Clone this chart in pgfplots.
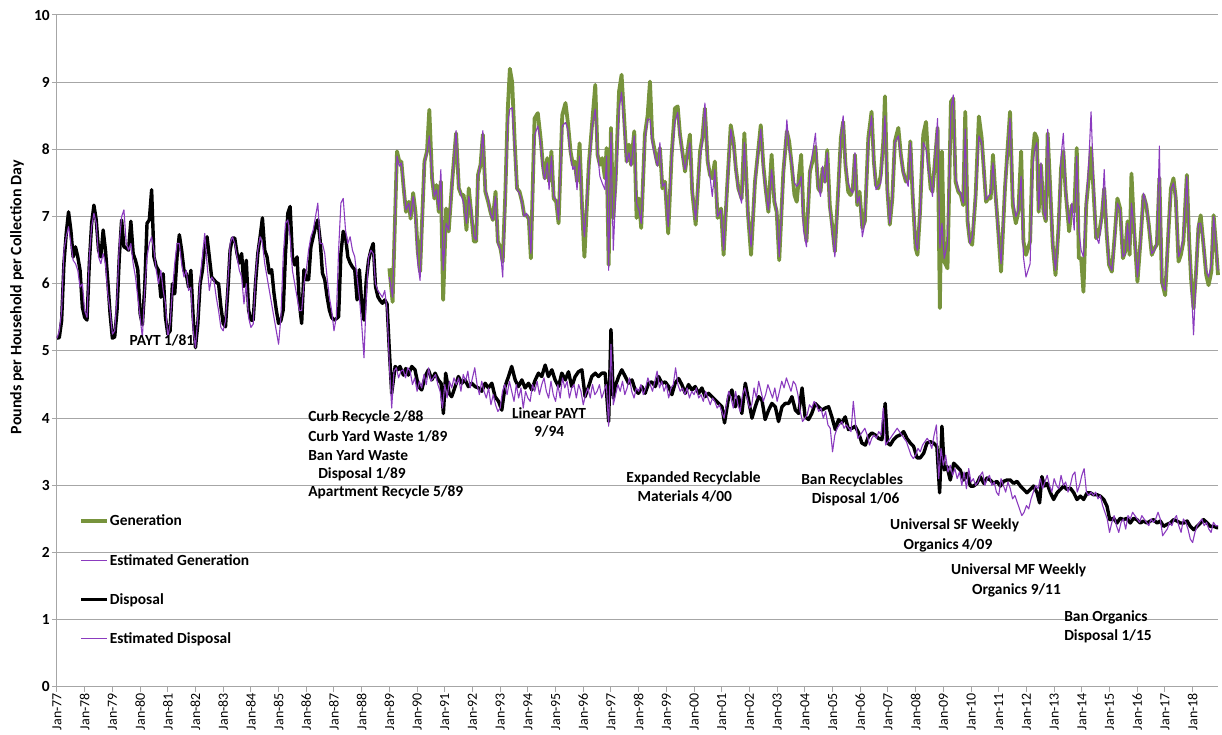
\documentclass[border=0pt]{standalone}
\usepackage{pgfplots}
\pgfplotsset{compat=1.18}
\usepackage{pgfplotstable}
\usepackage{fontspec}
\setmainfont{Carlito}
\definecolor{gen}{HTML}{77933C}
\definecolor{est}{HTML}{8B3BBF}
\definecolor{gridc}{HTML}{A6A6A6}

\pgfplotstableread{
x y
0 5.19
1 5.20
2 5.45
3 6.30
4 6.75
5 7.07
6 6.80
7 6.40
8 6.55
9 6.40
10 6.20
11 5.65
12 5.50
13 5.46
14 6.30
15 6.90
16 7.17
17 6.95
18 6.50
19 6.40
20 6.80
21 6.50
22 6.05
23 5.55
24 5.19
25 5.21
26 5.60
27 6.40
28 6.95
29 6.55
30 6.53
31 6.50
32 6.93
33 6.45
34 6.35
35 6.21
36 5.56
37 5.39
38 5.95
39 6.90
40 6.95
41 7.40
42 6.40
43 6.26
44 6.20
45 5.80
46 6.15
47 5.50
48 5.25
49 5.30
50 6.00
51 5.85
52 6.40
53 6.73
54 6.50
55 6.20
56 6.15
57 5.95
58 6.20
59 5.50
60 5.05
61 5.40
62 6.00
63 6.20
64 6.55
65 6.70
66 6.40
67 6.10
68 6.06
69 6.02
70 6.00
71 5.66
72 5.41
73 5.36
74 5.90
75 6.50
76 6.68
77 6.68
78 6.45
79 6.31
80 6.45
81 5.96
82 6.35
83 5.61
84 5.46
85 5.46
86 6.00
87 6.45
88 6.70
89 6.98
90 6.50
91 6.40
92 6.16
93 6.21
94 5.86
95 5.61
96 5.41
97 5.45
98 5.61
99 6.45
100 7.05
101 7.15
102 6.40
103 6.28
104 6.40
105 5.71
106 5.41
107 6.21
108 6.06
109 6.06
110 6.55
111 6.70
112 6.85
113 6.95
114 6.65
115 6.16
116 6.06
117 5.81
118 5.61
119 5.50
120 5.46
121 5.48
122 5.51
123 6.45
124 6.78
125 6.70
126 6.40
127 6.31
128 6.25
129 6.21
130 5.76
131 6.21
132 5.71
133 5.46
134 6.06
135 6.35
136 6.50
137 6.60
138 5.96
139 5.81
140 5.75
141 5.71
142 5.76
143 5.70
144 5.00
145 4.37
146.5 4.77
147.6 4.72
148.6 4.77
150.1 4.64
151.1 4.74
152.2 4.64
153.7 4.77
155.1 4.72
156.6 4.47
158.0 4.42
159.5 4.62
160.9 4.72
162.4 4.57
163.8 4.67
165.2 4.57
166.4 4.52
167.4 4.07
168.4 4.67
169.9 4.37
171.0 4.32
172.5 4.47
173.9 4.62
175.4 4.52
176.8 4.57
178.2 4.47
179.7 4.52
181.1 4.47
182.6 4.45
184.0 4.40
185.5 4.52
186.9 4.45
188.4 4.52
189.8 4.32
191.3 4.25
192.7 4.12
194.1 4.47
195.6 4.62
197.0 4.77
198.5 4.57
199.9 4.47
201.4 4.57
202.8 4.45
204.3 4.52
205.7 4.42
207.2 4.57
208.6 4.67
210.0 4.62
211.5 4.79
212.9 4.62
214.4 4.72
215.8 4.57
217.3 4.47
218.7 4.67
220.2 4.57
221.6 4.69
223.0 4.47
224.5 4.62
225.9 4.69
227.4 4.72
228.8 4.32
230.3 4.47
231.7 4.62
233.2 4.67
234.6 4.62
236.1 4.67
237.5 4.67
239.0 3.95
240.0 5.32
241.0 4.30
241.8 4.47
243.3 4.62
244.7 4.72
246.2 4.62
247.6 4.52
249.1 4.57
250.5 4.42
251.9 4.37
253.4 4.47
254.8 4.37
256.3 4.52
257.7 4.54
259.2 4.47
260.6 4.62
262.1 4.52
263.5 4.54
265.0 4.47
266.4 4.35
267.8 4.52
269.3 4.59
270.7 4.50
272.2 4.37
273.6 4.50
275.1 4.42
276.5 4.47
278.0 4.37
279.4 4.45
280.8 4.32
282.3 4.37
283.7 4.32
285.2 4.27
286.6 4.22
288.1 4.17
289.2 3.93
291.0 4.32
292.4 4.42
293.9 4.17
295.3 4.32
296.7 4.07
298.2 4.52
299.6 4.27
301.1 4.00
302.5 4.17
304.0 4.32
305.4 4.27
306.8 3.98
308.3 4.12
309.7 4.22
311.2 4.17
312.6 3.95
314.1 4.17
315.5 4.22
317.0 4.22
318.4 4.32
319.9 4.12
321.3 4.07
322.8 4.45
324.1 4.02
325.6 3.98
327.0 4.07
328.5 4.22
329.9 4.17
331.4 4.12
332.8 4.15
334.3 4.17
335.7 4.02
337.2 3.83
338.6 3.98
340.0 3.93
341.5 4.02
342.9 3.83
344.4 3.85
345.8 3.88
347.3 3.78
348.7 3.63
350.2 3.60
351.6 3.73
353.0 3.78
354.5 3.75
355.9 3.70
357.4 3.68
358.8 4.22
359.8 3.63
361.0 3.60
362.4 3.68
363.9 3.73
365.3 3.75
366.8 3.80
368.2 3.70
369.7 3.63
371.1 3.58
372.6 3.41
374.0 3.41
375.5 3.48
376.9 3.63
378.3 3.65
379.8 3.63
381.2 3.58
382.4 2.89
383.4 3.88
384.4 3.23
385.6 3.28
387.0 3.08
388.5 3.33
389.9 3.28
391.3 3.23
392.8 3.08
394.2 3.18
395.7 2.99
397.1 2.99
398.6 3.03
400.0 3.13
401.5 3.03
402.9 3.11
404.3 3.08
405.8 3.03
407.2 3.06
408.7 2.99
410.1 3.06
411.6 3.08
413.0 3.08
414.5 3.03
415.9 3.06
417.4 2.99
418.8 2.94
420.2 2.89
421.7 2.94
423.1 2.99
424.6 2.89
425.7 2.74
426.7 3.13
427.8 2.99
428.9 3.03
430.4 2.89
431.8 2.79
433.3 2.89
434.7 2.94
436.1 2.99
437.6 2.94
439.0 2.96
440.5 2.89
441.9 2.79
443.4 2.84
444.8 2.79
446.3 2.89
447.7 2.89
449.1 2.86
450.6 2.86
452.0 2.84
453.5 2.79
454.9 2.69
456.1 2.49
457.8 2.51
459.2 2.44
460.6 2.51
462.1 2.49
463.5 2.51
465.0 2.44
466.4 2.51
467.9 2.49
469.3 2.44
470.8 2.47
472.2 2.44
473.7 2.47
475.1 2.49
476.6 2.44
478.0 2.47
479.4 2.39
480.9 2.42
482.3 2.44
483.8 2.49
485.2 2.47
486.7 2.44
488.2 2.44
489.6 2.47
491.0 2.39
492.5 2.34
493.9 2.39
495.4 2.44
496.8 2.49
498.3 2.44
499.7 2.39
501.2 2.39
502.6 2.37
503.0 2.37
}\disposal

\pgfplotstableread{
x y
0 5.19
1 5.30
2 5.60
3 6.50
4 6.70
5 6.85
6 6.60
7 6.35
8 6.30
9 6.20
10 5.95
11 6.00
12 5.60
13 5.50
14 6.40
15 6.85
16 7.05
17 6.90
18 6.40
19 6.30
20 6.45
21 6.30
22 5.85
23 5.60
24 5.25
25 5.30
26 5.80
27 6.60
28 7.00
29 7.10
30 6.60
31 6.50
32 6.60
33 6.30
34 6.10
35 5.80
36 5.50
37 5.20
38 5.90
39 6.40
40 6.60
41 6.70
42 6.50
43 6.20
44 6.00
45 6.20
46 5.90
47 5.70
48 5.20
49 5.40
50 5.90
51 6.30
52 6.60
53 6.60
54 6.30
55 6.10
56 6.20
57 5.90
58 5.95
59 5.30
60 5.05
61 5.50
62 6.10
63 6.40
64 6.75
65 6.30
66 5.90
67 6.10
68 6.05
69 5.80
70 5.60
71 5.35
72 5.30
73 5.45
74 6.00
75 6.60
76 6.70
77 6.60
78 6.40
79 6.20
80 6.10
81 5.70
82 6.00
83 5.50
84 5.35
85 5.40
86 6.10
87 6.50
88 6.70
89 6.60
90 6.30
91 6.10
92 5.90
93 5.70
94 5.50
95 5.30
96 5.10
97 5.50
98 6.40
99 6.90
100 6.95
101 6.70
102 6.20
103 6.00
104 5.80
105 5.60
106 5.60
107 6.00
108 6.20
109 6.50
110 6.70
111 6.80
112 7.00
113 7.20
114 6.60
115 6.60
116 6.45
117 6.10
118 5.80
119 5.60
120 5.30
121 5.50
122 6.50
123 7.20
124 7.27
125 6.80
126 6.60
127 6.70
128 6.50
129 6.40
130 6.10
131 5.80
132 5.40
133 4.90
134 5.80
135 6.40
136 6.50
137 6.45
138 6.00
139 5.90
140 5.85
141 5.80
142 5.90
143 5.60
144 4.80
145 4.15
146 4.70
147 4.75
148 4.60
149 4.70
150 4.72
151 4.60
152 4.75
153 4.70
154 4.50
155 4.60
156 4.40
157 4.55
158 4.45
159 4.65
160 4.50
161 4.75
162 4.55
163 4.60
164 4.65
165 4.50
166 4.40
167 4.15
168 4.50
169 4.30
170 4.55
171 4.45
172 4.60
173 4.50
174 4.60
175 4.40
176 4.65
177 4.55
178 4.70
179 4.45
180 4.60
181 4.75
182 4.50
183 4.35
184 4.55
185 4.40
186 4.30
187 4.45
188 4.20
189 4.35
190 4.20
191 4.10
192 4.15
193 4.40
194 4.50
195 4.35
196 4.55
197 4.40
198 4.25
199 4.50
200 4.30
201 4.45
202 4.15
203 4.40
204 4.30
205 4.25
206 4.50
207 4.40
208 4.55
209 4.35
210 4.50
211 4.60
212 4.40
213 4.30
214 4.55
215 4.35
216 4.25
217 4.50
218 4.30
219 4.60
220 4.45
221 4.55
222 4.30
223 4.45
224 4.50
225 4.30
226 4.50
227 4.40
228 4.20
229 4.35
230 4.45
231 4.30
232 4.50
233 4.35
234 4.40
235 4.50
236 4.30
237 4.40
238 4.50
239 3.88
240 5.10
241 4.20
242 4.35
243 4.50
244 4.40
245 4.55
246 4.35
247 4.45
248 4.60
249 4.40
250 4.30
251 4.45
252 4.40
253 4.50
254 4.35
255 4.45
256 4.60
257 4.50
258 4.40
259 4.55
260 4.70
261 4.45
262 4.55
263 4.40
264 4.50
265 4.30
266 4.45
267 4.50
268 4.75
269 4.50
270 4.40
271 4.45
272 4.35
273 4.45
274 4.30
275 4.40
276 4.35
277 4.45
278 4.30
279 4.35
280 4.25
281 4.40
282 4.30
283 4.20
284 4.30
285 4.25
286 4.15
287 4.20
288 4.10
289 4.00
290 4.20
291 4.40
292 4.30
293 4.15
294 4.40
295 4.20
296 4.10
297 4.35
298 4.45
299 4.30
300 4.15
301 4.20
302 4.45
303 4.30
304 4.55
305 4.40
306 4.25
307 4.35
308 4.50
309 4.40
310 4.30
311 4.45
312 4.25
313 4.40
314 4.55
315 4.45
316 4.60
317 4.50
318 4.40
319 4.55
320 4.50
321 4.35
322 4.10
323 3.95
324 4.00
325 4.05
326 4.20
327 4.15
328 4.25
329 4.20
330 4.10
331 4.15
332 4.00
333 4.10
334 3.90
335 3.85
336 3.50
337 3.75
338 3.85
339 3.90
340 3.95
341 3.85
342 3.90
343 3.85
344 3.80
345 4.25
346 3.90
347 3.70
348 3.75
349 3.80
350 3.85
351 3.75
352 3.60
353 3.70
354 3.75
355 3.70
356 3.80
357 3.75
358 4.15
359 3.60
360 3.65
361 3.70
362 3.75
363 3.80
364 3.85
365 3.80
366 3.75
367 3.70
368 3.65
369 3.55
370 3.45
371 3.40
372 3.45
373 3.55
374 3.50
375 3.60
376 3.65
377 3.70
378 3.65
379 3.55
380 3.75
381 3.90
382 3.10
383 3.55
384 3.30
385 3.45
386 3.20
387 3.30
388 3.15
389 3.25
390 3.10
391 3.20
392 3.00
393 3.20
394 2.95
395 3.25
396 3.05
397 3.10
398 3.00
399 3.05
400 3.15
401 3.20
402 3.00
403 3.10
404 3.15
405 3.00
406 3.05
407 2.90
408 2.85
409 3.10
410 3.00
411 2.90
412 3.05
413 2.95
414 2.80
415 2.85
416 2.75
417 2.65
418 2.55
419 2.60
420 2.70
421 2.65
422 2.80
423 2.90
424 3.00
425 2.95
426 3.10
427 2.95
428 3.05
429 3.15
430 3.00
431 2.90
432 3.10
433 3.00
434 2.95
435 3.15
436 3.00
437 3.05
438 2.90
439 3.00
440 3.15
441 3.20
442 2.90
443 3.00
444 3.15
445 3.25
446 2.90
447 2.85
448 2.90
449 2.85
450 2.90
451 2.80
452 2.85
453 2.70
454 2.60
455 2.50
456 2.30
457 2.45
458 2.55
459 2.40
460 2.30
461 2.45
462 2.50
463 2.35
464 2.55
465 2.50
466 2.60
467 2.55
468 2.50
469 2.45
470 2.55
471 2.50
472 2.45
473 2.40
474 2.50
475 2.45
476 2.50
477 2.60
478 2.50
479 2.25
480 2.30
481 2.35
482 2.45
483 2.40
484 2.50
485 2.55
486 2.40
487 2.30
488 2.50
489 2.45
490 2.35
491 2.20
492 2.15
493 2.30
494 2.40
495 2.45
496 2.50
497 2.40
498 2.45
499 2.35
500 2.30
501 2.45
502 2.40
503 2.40
}\estdisposal

\pgfplotstableread{
x g e
144 6.23 6.10
145.4 5.73 5.80
147.3 7.97 7.90
148.3 7.82 7.75
149.2 7.82 7.80
150.2 7.42 7.45
151.2 7.07 7.10
152.4 7.22 7.20
153.2 6.97 7.00
154.3 7.35 7.30
155.3 7.07 7.00
156.3 6.48 6.30
157.3 6.18 6.05
159.2 7.82 7.80
160.3 7.97 7.95
161.3 8.59 8.20
162.5 7.57 7.60
163.5 7.27 7.30
164.4 7.47 7.40
165.4 7.07 7.10
166.3 7.52 7.70
167.3 5.76 6.20
168.6 7.12 6.90
169.7 6.78 6.80
171.2 7.52 7.50
172.9 8.24 8.28
174.1 7.42 7.45
175.2 7.32 7.30
176.2 7.32 7.20
177.4 6.80 6.90
178.4 7.42 7.30
179.4 7.07 7.10
180.6 6.63 6.70
181.6 6.63 6.65
182.4 7.62 7.60
183.5 7.77 7.80
184.5 8.22 8.28
185.6 7.37 7.40
186.8 7.22 7.25
187.8 7.07 7.05
188.8 6.95 6.95
190.0 7.37 7.30
191.0 6.63 6.60
192.1 6.53 6.50
193.1 6.33 6.10
194.2 7.30 7.20
195.3 8.60 8.40
196.2 9.20 8.60
197.2 9.00 8.62
198.3 8.10 8.00
199.3 7.42 7.40
200.4 7.37 7.35
201.5 7.22 7.20
202.4 7.02 7.00
203.4 7.02 7.05
204.4 6.97 6.95
205.3 6.38 6.45
206.9 8.46 8.20
208.3 8.54 8.35
209.5 8.17 8.10
210.5 7.77 7.70
211.3 7.57 7.55
212.4 7.87 7.80
213.2 7.52 7.40
214.2 7.97 7.90
215.2 7.27 7.30
216.3 7.22 7.25
217.3 6.90 6.95
218.9 8.51 8.35
220.3 8.69 8.40
221.3 8.41 8.30
222.5 7.97 7.90
223.5 7.77 7.70
224.3 7.82 7.75
225.3 7.52 7.40
226.4 8.09 7.90
227.5 7.12 7.10
228.5 6.40 6.70
230.4 7.77 7.70
231.9 8.41 8.35
233.2 8.96 8.60
234.2 7.92 7.95
235.2 7.77 7.60
236.2 7.87 7.50
237.4 7.57 7.40
238.1 8.02 7.90
239.0 6.28 6.20
240.0 8.32 8.25
241.0 6.98 6.50
242.0 7.52 7.30
243.5 8.86 8.60
244.6 9.11 8.85
245.8 8.41 8.30
246.8 7.82 7.80
247.8 8.07 7.95
248.7 7.77 7.75
250.1 8.27 8.20
251.1 6.98 7.20
252.1 7.27 7.10
253.1 6.83 6.90
254.7 8.22 8.15
255.9 8.51 8.45
256.9 9.01 8.45
257.9 8.17 8.10
259.0 7.97 7.90
260.2 7.77 7.75
261.2 8.02 8.10
262.3 7.42 7.45
263.4 7.52 7.50
264.8 6.75 6.85
266.3 7.92 7.90
267.7 8.61 8.40
268.9 8.64 8.55
269.9 8.22 8.20
270.9 7.97 7.90
272.1 7.67 7.70
273.2 7.97 7.90
274.2 8.22 8.10
275.2 7.37 7.40
276.7 6.88 6.95
278.6 7.97 7.90
279.6 8.17 8.10
280.7 8.61 8.69
281.9 7.82 7.85
282.9 7.62 7.60
283.9 7.57 7.30
285.0 7.82 7.70
286.2 6.98 7.00
287.7 7.12 7.10
288.8 6.43 6.50
290.3 7.42 7.40
291.9 8.36 8.30
293.1 8.12 8.05
294.1 7.72 7.70
295.2 7.42 7.40
296.6 7.27 7.20
297.8 8.24 8.10
299.3 7.07 7.05
300.7 6.43 6.55
302.4 7.52 7.50
303.9 8.02 8.00
304.9 8.36 8.30
306.0 7.77 7.70
307.0 7.42 7.40
308.2 7.07 7.10
309.6 7.92 7.70
310.8 7.22 7.30
311.8 7.07 7.10
312.9 6.35 6.40
314.7 7.67 7.60
316.2 8.27 8.44
317.2 8.12 8.00
318.3 7.77 7.80
319.5 7.32 7.50
320.5 7.22 7.45
321.5 7.62 7.50
322.4 7.92 7.60
323.4 7.02 6.80
324.7 6.63 6.55
326.2 7.67 7.70
327.6 7.87 8.00
328.6 8.04 8.24
329.8 7.42 7.45
330.8 7.37 7.30
331.7 7.72 7.75
332.7 7.52 7.50
333.7 7.99 7.95
334.8 7.17 7.10
335.8 6.88 6.80
337.0 6.48 6.40
338.5 7.42 7.30
339.6 8.17 8.20
340.6 8.41 8.50
341.6 7.77 7.80
342.8 7.37 7.50
343.8 7.32 7.40
344.8 7.42 7.35
345.7 7.92 7.95
346.7 7.17 7.20
347.7 7.37 7.30
348.9 6.83 6.70
350.0 6.93 6.90
351.5 8.17 8.10
352.9 8.56 8.50
353.9 7.82 7.80
354.8 7.47 7.40
355.8 7.42 7.45
356.9 7.62 7.50
358.0 8.12 8.10
358.7 8.79 8.50
359.7 7.42 7.40
360.8 6.88 6.90
361.9 7.27 7.30
363.0 8.12 8.10
364.5 8.32 8.20
365.6 7.92 7.90
366.6 7.67 7.65
367.8 7.52 7.55
368.8 7.57 7.45
369.7 8.12 8.10
370.7 7.32 7.45
372.0 6.53 6.60
372.8 6.43 6.50
373.9 7.07 7.00
375.3 8.22 8.10
376.5 8.41 8.00
377.5 7.82 7.70
378.5 7.42 7.50
379.3 7.37 7.30
381.5 8.32 8.46
382.5 5.64 6.53
383.4 7.97 6.90
384.4 6.33 6.38
385.8 6.23 6.60
387.3 8.71 8.60
388.3 8.76 8.81
389.3 7.52 7.60
390.5 7.37 7.40
391.6 7.32 7.35
392.6 7.17 7.20
393.5 8.56 8.30
394.5 6.93 7.00
395.5 6.63 6.60
396.5 6.58 6.70
398.0 7.32 7.30
399.4 8.49 8.20
400.6 8.17 8.10
401.6 7.67 7.70
402.5 7.22 7.25
403.5 7.27 7.30
404.5 7.27 7.35
405.5 7.92 7.80
406.4 7.42 7.40
407.5 6.93 6.90
409.0 6.18 6.30
410.7 7.42 7.40
412.9 8.56 8.46
414.1 7.17 7.30
415.4 6.90 7.00
416.5 7.07 7.10
417.7 7.97 7.60
418.7 6.63 6.40
419.8 6.43 6.10
421.6 6.63 6.30
422.6 7.87 7.70
423.6 8.24 8.00
424.5 8.17 8.10
425.3 7.07 7.10
426.3 7.77 7.80
427.4 7.07 7.10
428.4 6.93 6.95
429.2 8.24 8.30
430.3 7.42 7.40
431.4 6.58 6.60
432.6 6.13 6.20
433.9 6.83 6.80
435.0 7.72 7.90
436.0 7.97 8.24
437.0 7.37 7.40
438.5 6.78 6.90
439.7 7.17 7.20
440.7 7.07 6.80
441.8 8.02 7.90
442.7 6.38 6.80
443.7 6.38 6.50
444.7 5.88 6.40
445.9 7.17 7.20
447.0 7.57 7.80
448.0 8.02 8.56
449.0 7.42 7.60
450.2 6.68 6.70
451.4 6.73 6.60
452.7 7.02 7.00
453.7 7.42 7.70
454.8 6.73 6.80
455.8 6.28 6.30
457.0 6.18 6.20
458.4 6.78 6.70
459.4 7.27 7.20
460.6 7.12 7.10
461.8 6.38 6.40
462.8 6.48 6.45
463.8 6.93 6.90
464.7 6.43 6.50
465.5 7.64 7.20
466.7 6.78 6.80
468.1 6.03 6.10
469.5 6.68 6.65
470.7 7.32 7.35
471.9 7.17 7.20
473.0 6.88 6.90
474.3 6.43 6.45
475.5 6.53 6.50
476.5 6.58 6.60
477.6 7.57 8.05
478.7 6.03 6.00
480.1 5.83 5.90
481.6 6.83 6.80
482.6 7.42 7.40
483.7 7.57 7.50
484.7 7.27 7.30
485.9 6.33 6.40
486.9 6.43 6.50
488.0 6.63 6.70
489.5 7.62 7.60
490.5 6.63 6.60
491.4 6.03 6.00
492.4 5.64 5.24
493.5 6.18 6.10
494.5 6.83 6.90
495.5 7.02 6.90
496.7 6.58 6.60
497.9 6.13 6.20
498.9 5.98 6.10
500.1 6.18 6.30
501.1 7.02 7.00
502.1 6.58 6.60
503.0 6.13 6.20
}\generation

\begin{document}
\begin{tikzpicture}
\begin{axis}[
  scale only axis, width=1161bp, height=672bp,
  xmin=0, xmax=503, ymin=0, ymax=10,
  axis lines=left, axis line style={-, draw=gridc, line width=1bp},
  ytick={0,1,...,10},
  xtick={0,12,...,492},
  xticklabels={Jan-77,Jan-78,Jan-79,Jan-80,Jan-81,Jan-82,Jan-83,Jan-84,Jan-85,Jan-86,Jan-87,Jan-88,Jan-89,Jan-90,Jan-91,Jan-92,Jan-93,Jan-94,Jan-95,Jan-96,Jan-97,Jan-98,Jan-99,Jan-00,Jan-01,Jan-02,Jan-03,Jan-04,Jan-05,Jan-06,Jan-07,Jan-08,Jan-09,Jan-10,Jan-11,Jan-12,Jan-13,Jan-14,Jan-15,Jan-16,Jan-17,Jan-18},
  /pgf/number format/assume math mode=true,
  tick align=outside, major tick length=5bp,
  tick style={draw=gridc, line width=1bp},
  ymajorgrids, grid style={draw=gridc, line width=1bp},
  xticklabel style={rotate=90, anchor=east, font=\fontsize{14}{16}\selectfont, inner sep=1bp},
  yticklabel style={font=\bfseries\fontsize{15.5}{18}\selectfont, inner sep=2bp},
  ylabel={Pounds per Household per Collection Day},
  ylabel style={at={(axis description cs:-0.0345,0.58)}, anchor=center, font=\bfseries\fontsize{16}{19}\selectfont},
  legend style={at={(axis cs:9.5,2.575)}, anchor=north west, draw=none, fill=none,
    font=\bfseries\fontsize{15.5}{18}\selectfont, row sep=24.8bp, inner sep=0pt,
    nodes={inner sep=1bp}},
  legend cell align=left,
  legend image code/.code={\draw[#1] (0bp,0bp) -- (26bp,0bp);},
  clip=false,
]
\addplot[gen, line width=3.8bp, line join=round] table[x=x, y=g] {\generation};
\addlegendentry{Generation}
\addplot[est, line width=1.1bp, line join=round] table[x=x, y=e] {\generation};
\addlegendentry{Estimated Generation}
\addplot[black, line width=3.4bp, line join=round] table[x=x, y=y] {\disposal};
\addlegendentry{Disposal}
\addplot[est, line width=1.1bp, line join=round] table[x=x, y=y] {\estdisposal};
\addlegendentry{Estimated Disposal}

\begin{scope}[every node/.style={font=\bfseries\fontsize{15.5}{18}\selectfont, inner sep=0pt}]
\node at (axis cs:45.5,5.16) {PAYT 1/81};
\node[anchor=west] at (axis cs:108.8,4.02) {Curb Recycle 2/88};
\node[anchor=west] at (axis cs:108.8,3.735) {Curb Yard Waste 1/89};
\node[anchor=west] at (axis cs:108.8,3.45) {Ban Yard Waste};
\node[anchor=west] at (axis cs:113.1,3.17) {Disposal 1/89};
\node[anchor=west] at (axis cs:108.8,2.90) {Apartment Recycle 5/89};
\node at (axis cs:213.2,4.08) {Linear PAYT};
\node at (axis cs:213.2,3.81) {9/94};
\node at (axis cs:275.8,3.11) {Expanded Recyclable};
\node at (axis cs:272,2.83) {Materials 4/00};
\node at (axis cs:344.5,3.08) {Ban Recyclables};
\node at (axis cs:346,2.80) {Disposal 1/06};
\node at (axis cs:388.9,2.40) {Universal SF Weekly};
\node at (axis cs:386,2.11) {Organics 4/09};
\node at (axis cs:416.6,1.73) {Universal MF Weekly};
\node at (axis cs:415.7,1.44) {Organics 9/11};
\node[anchor=west] at (axis cs:436.3,1.04) {Ban Organics};
\node[anchor=west] at (axis cs:436.3,0.76) {Disposal 1/15};
\end{scope}
\coordinate (bl) at (rel axis cs:0,0);
\coordinate (tr) at (rel axis cs:1,1);
\end{axis}
\pgfresetboundingbox
\path ([shift={(-57bp,-48bp)}]bl) rectangle ([shift={(4bp,15bp)}]tr);
\end{tikzpicture}
\end{document}
